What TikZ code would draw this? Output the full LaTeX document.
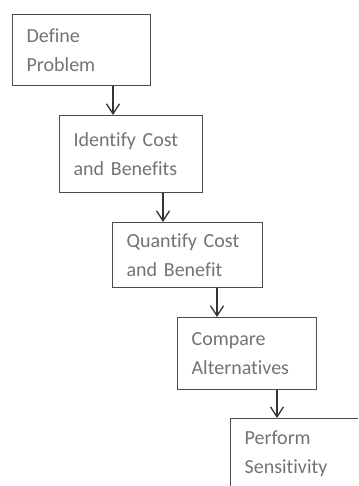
\documentclass[tikz,border=0pt]{standalone}
\usepackage{fontspec}
\setmainfont{Carlito}[Ligatures=NoCommon]
\usetikzlibrary{arrows.meta}
\tikzset{
 stepbox/.style={draw=black!70, line width=1.3pt, anchor=north west, align=left,
  inner xsep=14pt, inner ysep=0pt, text=black!55,
  font=\fontsize{20}{28.5}\selectfont},
 flow/.style={-{Straight Barb[length=10pt,width=13pt]}, line width=1.3pt, draw=black!80}
}
\begin{document}
\begin{tikzpicture}[x=1pt, y=-1pt]
 \useasboundingbox (0,0) rectangle (358,486);
 \clip (0,0) rectangle (358,486);

 % Kästen
 \node[stepbox, minimum width=138pt, minimum height=71pt, text width=110pt] (define) at (12,14) {Define\\Problem};
 \node[stepbox, minimum width=143pt, minimum height=77pt, text width=115pt] (identify) at (59,115) {Identify Cost\\and Benefits};
 \node[stepbox, minimum width=150pt, minimum height=65pt, text width=122pt] (quantify) at (112,222) {Quantify Cost\\and Benefit};
 \node[stepbox, minimum width=139pt, minimum height=72pt, text width=111pt] (compare) at (177,317) {Compare\\Alternatives};
 \node[stepbox, minimum width=140pt, minimum height=70pt, text width=112pt] (perform) at (230,418) {Perform\\Sensitivity};

 % Pfeile
 \coordinate (x1) at (113,0);
 \coordinate (x2) at (163,0);
 \coordinate (x3) at (217,0);
 \coordinate (x4) at (277,0);
 \draw[flow] (define.south -| x1) -- (identify.north -| x1);
 \draw[flow] (identify.south -| x2) -- (quantify.north -| x2);
 \draw[flow] (quantify.south -| x3) -- (compare.north -| x3);
 \draw[flow] (compare.south -| x4) -- (perform.north -| x4);
\end{tikzpicture}
\end{document}
